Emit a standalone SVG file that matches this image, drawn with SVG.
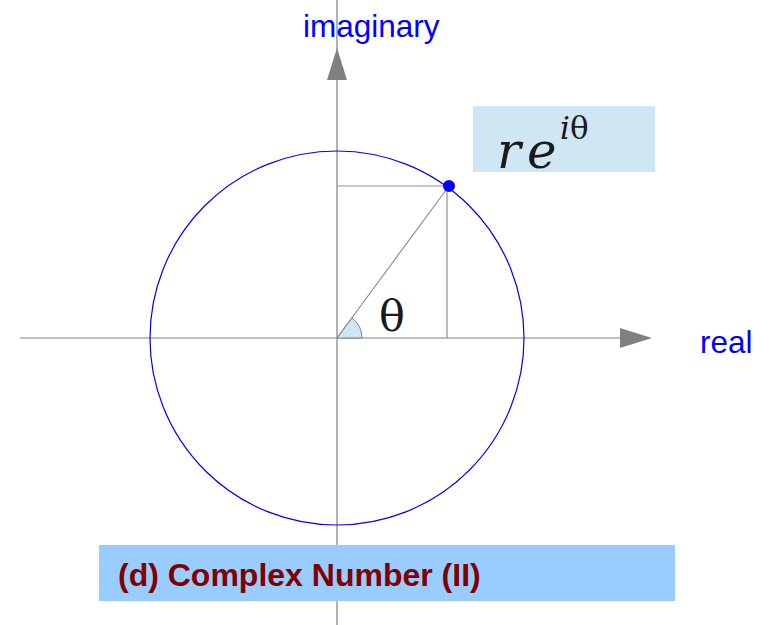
<svg xmlns="http://www.w3.org/2000/svg" width="769" height="625" viewBox="0 0 769 625">
<style>
.axis{stroke:#808080;stroke-width:1.2;fill:none}
.guide{stroke:#909090;stroke-width:1.2;fill:none}
.lbl{font-family:"Liberation Sans",Arial,sans-serif;fill:#0000ff;font-size:31.5px}
.math{font-family:"DejaVu Serif","Liberation Serif",serif;fill:#1a1a1a}
</style>
<rect width="769" height="625" fill="#ffffff"/>
<g id="axes">
<line class="axis" x1="337" y1="0" x2="337" y2="625"/>
<polygon points="337,48 327,80 347,80" fill="#808080"/>
<line class="axis" x1="20" y1="338" x2="622" y2="338"/>
<polygon points="652,338 620,328 620,348" fill="#808080"/>
</g>
<g id="circle">
<circle cx="337" cy="338" r="187" fill="none" stroke="#0000ff" stroke-width="1.2"/>
</g>
<g id="angle">
<path d="M337,338 L362,338 A25,25 0 0,0 351.8,317.9 Z" fill="#cfe7f5" stroke="#808080" stroke-width="1"/>
<text class="math" x="379" y="331" font-size="43">θ</text>
</g>
<g id="connectors">
<line class="guide" x1="337" y1="186" x2="449" y2="186"/>
<line class="guide" x1="447" y1="186" x2="447" y2="338"/>
<line class="guide" x1="337" y1="338" x2="449" y2="186"/>
</g>
<g id="point">
<circle cx="449" cy="186" r="6" fill="#0000ff"/>
</g>
<g id="formula">
<rect x="473" y="106" width="182" height="66" fill="#cfe7f5"/>
<text class="math" x="497" y="168" font-size="50" font-style="italic">r</text>
<text class="math" x="527" y="168" font-size="50" font-style="italic">e</text>
<text class="math" x="560" y="139" font-size="31" font-style="italic">i</text>
<text class="math" x="570" y="139" font-size="31">θ</text>
</g>
<g id="imaginary"><text class="lbl" x="303" y="37">imaginary</text></g>
<g id="real"><text class="lbl" x="700" y="353">real</text></g>
<g id="title">
<rect x="99" y="545" width="576" height="56" fill="#99ccff"/>
<text x="118" y="586" font-family="Liberation Sans,Arial,sans-serif" font-weight="bold" font-size="32" fill="#800000">(d) Complex Number (II)</text>
</g>
</svg>
